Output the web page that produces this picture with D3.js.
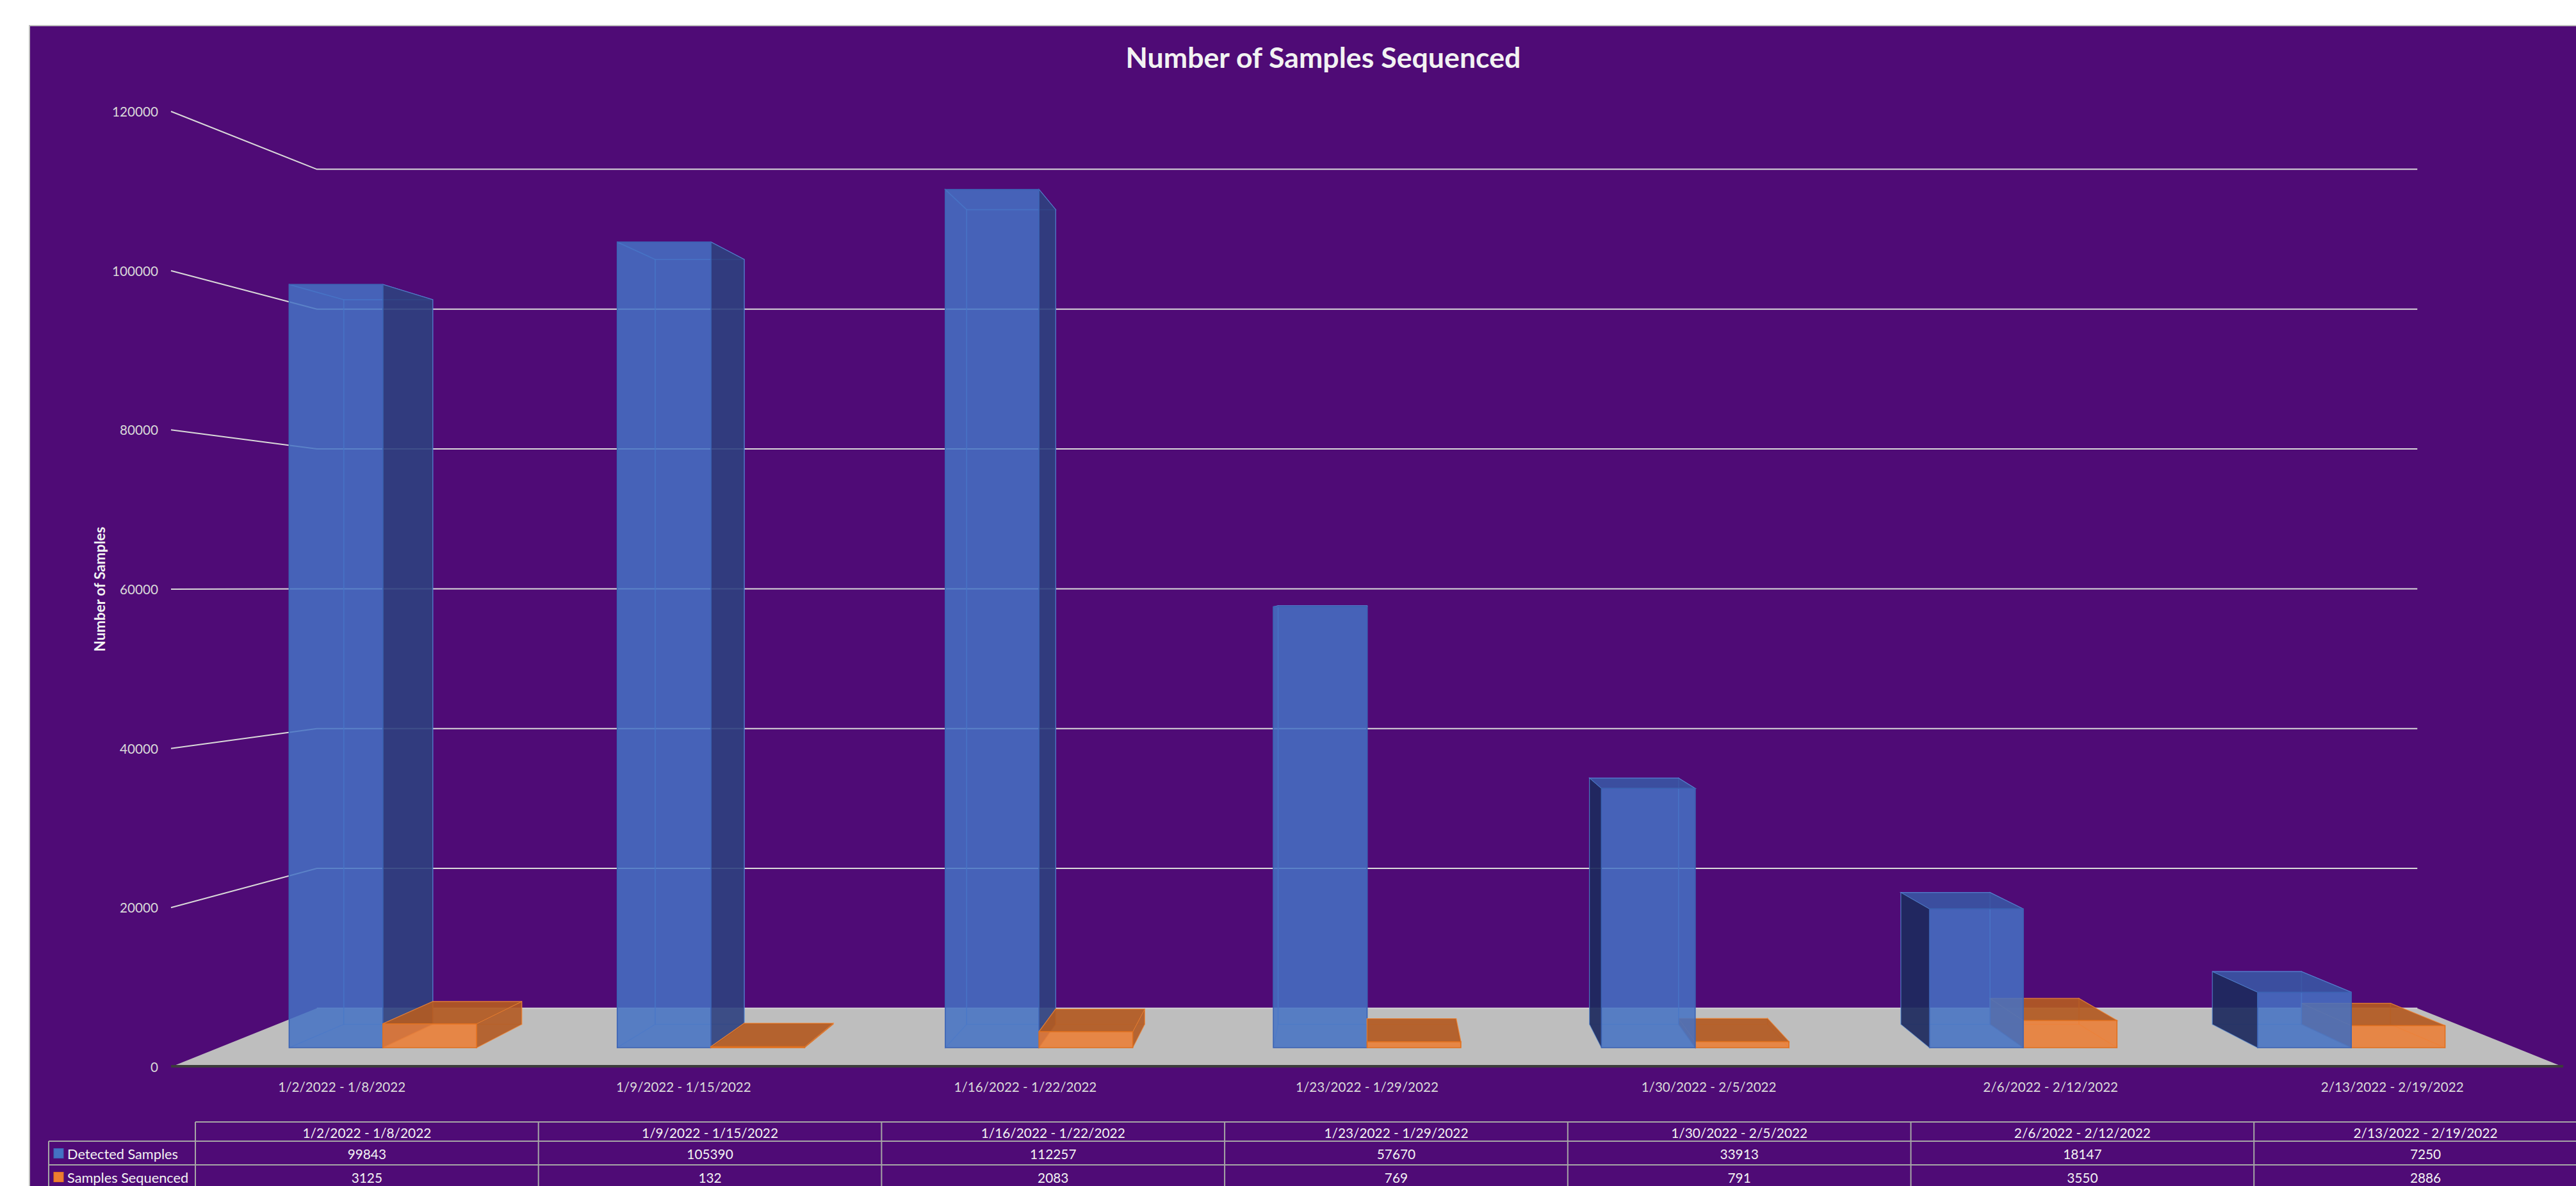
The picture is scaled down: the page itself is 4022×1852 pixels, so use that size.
<!DOCTYPE html>
<html>
<head>
<meta charset="utf-8">
<script src="https://cdn.jsdelivr.net/npm/d3@7"></script>
<style>
  body { margin: 0; background: #ffffff; }
</style>
</head>
<body>
<div id="chart"></div>
<script>
// data
const categories = ["1/2/2022 - 1/8/2022", "1/9/2022 - 1/15/2022", "1/16/2022 - 1/22/2022",
  "1/23/2022 - 1/29/2022", "1/30/2022 - 2/5/2022", "2/6/2022 - 2/12/2022", "2/13/2022 - 2/19/2022"]
const detected = [99843, 105390, 112257, 57670, 33913, 18147, 7250]
const sequenced = [3125, 132, 2083, 769, 791, 3550, 2886]
const seriesNames = ["Detected Samples", "Samples Sequenced"]
const yTicks = [0, 20000, 40000, 60000, 80000, 100000, 120000]
const chartTitle = "Number of Samples Sequenced"
const yTitle = "Number of Samples"

const W = 4022, H = 1852
const FONT = "Lato, 'Open Sans', sans-serif"
const series = [detected, sequenced]

const svg = d3.select("#chart").append("svg")
  .attr("width", W).attr("height", H)
  .style("display", "block")

// font size that makes a string a given width
function fitSize(str, target, weight) {
  const t = svg.append("text").attr("font-family", FONT)
    .attr("font-size", 100).attr("font-weight", weight || "normal").text(str)
  const w = t.node().getComputedTextLength()
  t.remove()
  return 100 * target / w
}

// chart area
svg.append("rect")
  .attr("x", 46).attr("y", 40).attr("width", W).attr("height", H)
  .attr("fill", "#4F0B76").attr("stroke", "#BFBFBF").attr("stroke-width", 2)

// front plane scales + simple perspective toward a vanishing point
const x = d3.scaleBand().domain(categories).range([267, 4002])
const y = d3.scaleLinear().domain([0, 120000]).range([1666, 174])
const vp = { x: (267 + 4002) / 2, y: 915 }
const D = 7.2
const sc = z => D / (D + z)
const proj = (X, Y, z) => [vp.x + (X - vp.x) * sc(z), vp.y + (Y - vp.y) * sc(z)]
const poly = pts => "M" + pts.map(p => p.join(",")).join("L") + "Z"
const xL = x.range()[0], xR = x.range()[1]

// floor
const floor = [proj(xL, y(0), 0), proj(xR, y(0), 0), proj(xR, y(0), 1), proj(xL, y(0), 1)]
svg.append("path").attr("d", poly(floor)).attr("fill", "#BEBEBE")
svg.append("line")
  .attr("x1", floor[3][0]).attr("y1", floor[3][1]).attr("x2", floor[2][0]).attr("y2", floor[2][1])
  .attr("stroke", "#D6D6D6").attr("stroke-width", 2)
svg.append("line")
  .attr("x1", floor[0][0]).attr("y1", floor[0][1] - 1).attr("x2", floor[1][0]).attr("y2", floor[1][1] - 1)
  .attr("stroke", "#3C3C3C").attr("stroke-width", 4)

// gridlines: along the side wall, then the back wall
const grid = svg.append("g").attr("stroke", "#D9D9D9").attr("stroke-width", 2).attr("fill", "none")
yTicks.filter(v => v > 0).forEach(v => {
  const a = proj(xL, y(v), 0), b = proj(xL, y(v), 1), c = proj(xR, y(v), 1)
  grid.append("path").attr("d", "M" + a + "L" + b + "L" + c)
})

// y tick labels
const tickSize = fitSize("120000", 72)
svg.append("g").selectAll("text").data(yTicks).join("text")
  .attr("x", 247).attr("y", d => y(d))
  .attr("text-anchor", "end").attr("dominant-baseline", "central")
  .attr("font-family", FONT).attr("font-size", tickSize).attr("fill", "#D9D9D9")
  .text(d => d)

// bars
const z0 = 0.3, z1 = 0.7
const bw = x.bandwidth() / 3.5
const style = [
  { front: "#4472C4", fstroke: "#3B62B2", rside: "#2E4080", lside: "#1D2A5E", top: "#3A55A3", edge: "#5A90DC" },
  { front: "#ED7D31", fstroke: "#E0701F", rside: "#B35A22", lside: "#B35A22", top: "#B35A22", edge: "#F0893A" }
]
const bars = svg.append("g")

function drawBar(X0, X1, v, st) {
  const Y0 = y(0), Y1 = y(v)
  const P = (X, Y, z) => proj(X, Y, z)
  const back = [P(X0, Y0, z1), P(X1, Y0, z1), P(X1, Y1, z1), P(X0, Y1, z1)]
  const front = [P(X0, Y0, z0), P(X1, Y0, z0), P(X1, Y1, z0), P(X0, Y1, z0)]
  const left = [P(X0, Y0, z0), P(X0, Y0, z1), P(X0, Y1, z1), P(X0, Y1, z0)]
  const right = [P(X1, Y0, z0), P(X1, Y0, z1), P(X1, Y1, z1), P(X1, Y1, z0)]
  const top = [P(X0, Y1, z0), P(X1, Y1, z0), P(X1, Y1, z1), P(X0, Y1, z1)]
  const g = bars.append("g")
  // hidden edges, seen through the transparent fill
  ;[back, left, right, top].forEach(f => g.append("path").attr("d", poly(f))
    .attr("fill", "none").attr("stroke", st.edge).attr("stroke-opacity", 0.55).attr("stroke-width", 1.5))
  if (X1 < vp.x - 1) g.append("path").attr("d", poly(right))
    .attr("fill", st.rside).attr("fill-opacity", 0.9).attr("stroke", st.edge).attr("stroke-opacity", 0.6)
  if (X0 > vp.x + 1) g.append("path").attr("d", poly(left))
    .attr("fill", st.lside).attr("fill-opacity", 0.92).attr("stroke", st.edge).attr("stroke-opacity", 0.4)
  if (Y1 > vp.y) g.append("path").attr("d", poly(top))
    .attr("fill", st.top).attr("fill-opacity", 0.92).attr("stroke", st.edge).attr("stroke-opacity", 0.6)
  g.append("path").attr("d", poly(front))
    .attr("fill", st.front).attr("fill-opacity", 0.85)
    .attr("stroke", st.fstroke).attr("stroke-width", 1.5)
}

categories.forEach((c, i) => {
  const order = x(c) + x.bandwidth() / 2 <= vp.x + 1 ? [0, 1] : [1, 0]
  order.forEach(j => {
    const X0 = x(c) + bw * (0.75 + j)
    drawBar(X0, X0 + bw, series[j][i], style[j])
  })
})

// category labels
const catSize = fitSize(categories[0], 199)
svg.append("g").selectAll("text").data(categories).join("text")
  .attr("x", d => x(d) + x.bandwidth() / 2).attr("y", 1697)
  .attr("text-anchor", "middle").attr("dominant-baseline", "central")
  .attr("font-family", FONT).attr("font-size", catSize).attr("fill", "#D9D9D9")
  .text(d => d)

// titles
svg.append("text")
  .attr("x", 2066).attr("y", 106).attr("text-anchor", "middle")
  .attr("font-family", FONT).attr("font-weight", "bold")
  .attr("font-size", fitSize(chartTitle, 617, "bold")).attr("fill", "#F2F2F2")
  .text(chartTitle)

svg.append("text")
  .attr("transform", "translate(155,920) rotate(-90)")
  .attr("text-anchor", "middle").attr("dominant-baseline", "central")
  .attr("font-family", FONT).attr("font-weight", "bold")
  .attr("font-size", fitSize(yTitle, 195, "bold")).attr("fill", "#F2F2F2")
  .text(yTitle)

// data table
const tx = d3.scaleBand().domain(categories).range([305, 305 + 7 * 535.7])
const rows = [1752, 1782, 1819, 1856]
const tbl = svg.append("g")
const tline = (x1, y1, x2, y2) => tbl.append("line")
  .attr("x1", x1).attr("y1", y1).attr("x2", x2).attr("y2", y2)
  .attr("stroke", "#A6A6A6").attr("stroke-width", 2)
tline(305, rows[0], tx.range()[1], rows[0])
tline(76, rows[1], tx.range()[1], rows[1])
tline(76, rows[2], tx.range()[1], rows[2])
tline(76, rows[3], tx.range()[1], rows[3])
tline(76, rows[1], 76, rows[3])
categories.forEach(c => tline(tx(c), rows[0], tx(c), rows[3]))

const tblSize = fitSize(categories[0], 201)
const cellText = (xp, yp, str, anchor) => tbl.append("text")
  .attr("x", xp).attr("y", yp).attr("text-anchor", anchor || "middle")
  .attr("dominant-baseline", "central")
  .attr("font-family", FONT).attr("font-size", tblSize).attr("fill", "#F2F2F2")
  .text(str)
categories.forEach(c => cellText(tx(c) + tx.bandwidth() / 2, 1768, c))
series.forEach((s, j) => {
  const yc = (rows[j + 1] + rows[j + 2]) / 2 + 1
  s.forEach((v, i) => cellText(tx(categories[i]) + tx.bandwidth() / 2, yc, v))
  tbl.append("rect").attr("x", 84).attr("y", yc - 8).attr("width", 15).attr("height", 15)
    .attr("fill", style[j].front).attr("stroke", style[j].fstroke)
  cellText(105, yc, seriesNames[j], "start")
    .attr("font-size", fitSize(seriesNames[0], 173))
})
</script>
</body>
</html>
